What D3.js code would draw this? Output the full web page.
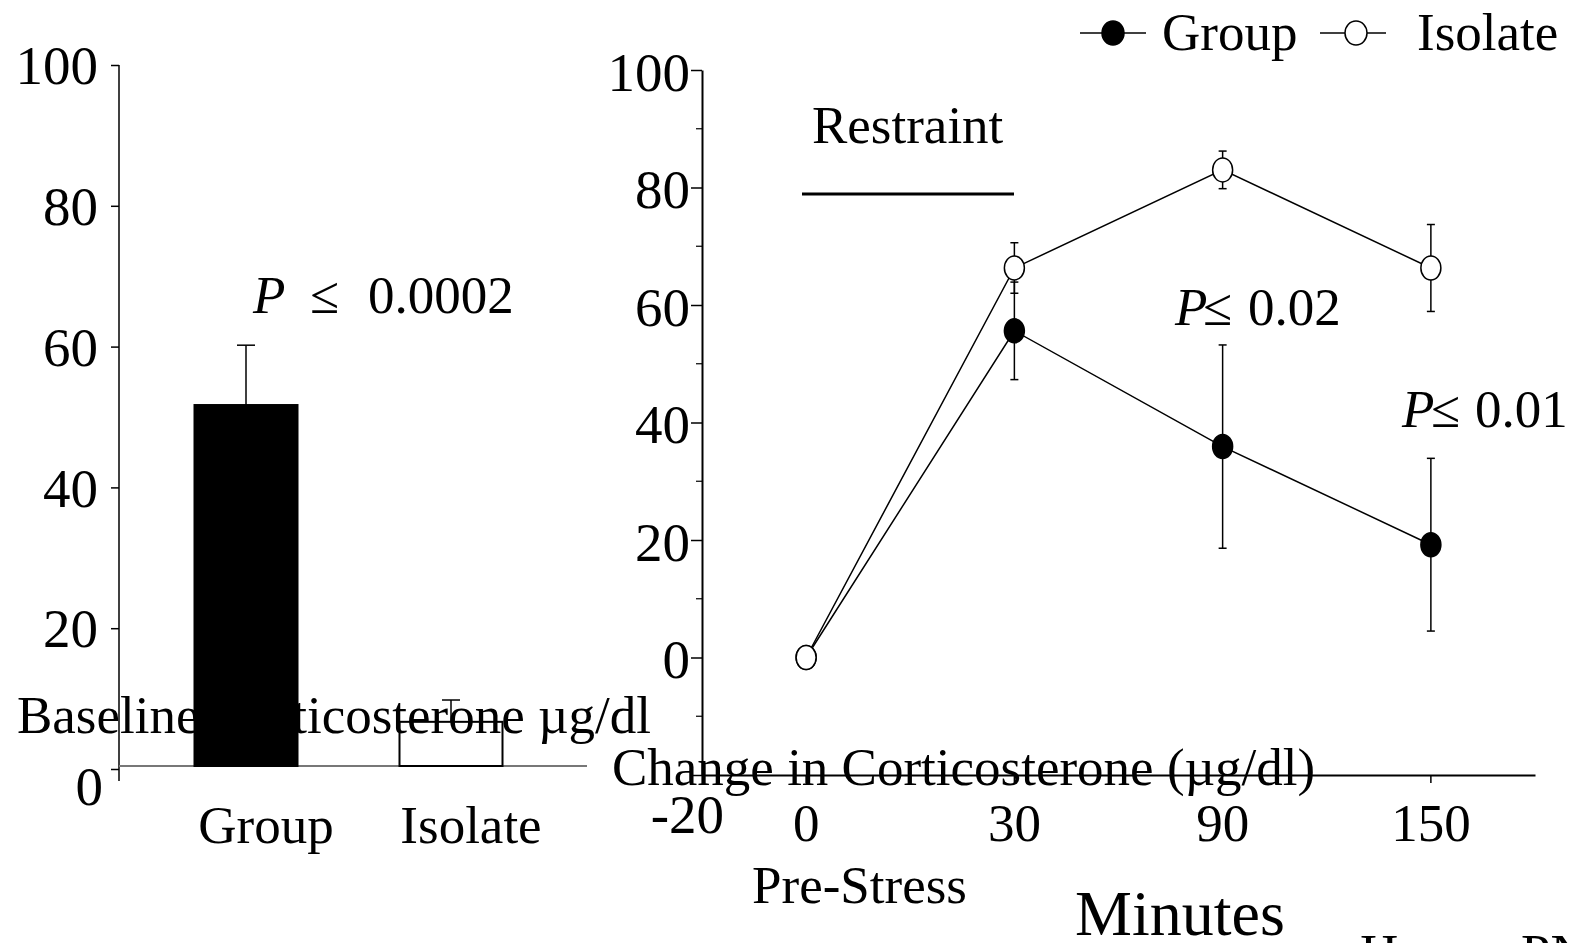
<!DOCTYPE html>
<html>
<head>
<meta charset="utf-8">
<script src="https://cdn.jsdelivr.net/npm/d3@7"></script>
<style>
	body { margin: 0; background: #fff; }
	svg text { font-family: "Liberation Serif", "Times New Roman", serif; fill: #000; }
</style>
</head>
<body>
<svg width="1571" height="943"></svg>
<script>
// baseline bars
var barGroups = ["Group", "Isolate"];
var barMeans = [51.7, 6.7];
var barErr = [8.5, 3.1];
var leftTicks = [0, 20, 40, 60, 80, 100];

// restraint time course
var timeLabels = ["0", "30", "90", "150"];
var groupMeans = [0, 55.6, 35.9, 19.2];
var groupErr = [0, 8.3, 17.3, 14.7];
var isolateMeans = [0, 66.3, 83.0, 66.3];
var isolateErr = [0, 4.3, 3.2, 7.4];
var rightTicks = [-20, 0, 20, 40, 60, 80, 100];
var rightMinor = [-10, 10, 30, 50, 70, 90];

var svg = d3.select("svg");
var fs = 53;
var tickFs = 55;

//----- left panel -----
var yL = d3.scaleLinear().domain([0, 100]).range([769, 65]);
var xL = d3.scalePoint().domain(barGroups).range([246, 451]);
var barW = 103;

svg.append("text")
	.attr("x", 17).attr("y", 733)
	.style("font-size", fs + "px")
	.text("Baseline Corticosterone \u00b5g/dl");

var leftAxis = svg.append("g")
	.attr("transform", "translate(119,0)")
	.call(d3.axisLeft(yL).tickValues(leftTicks).tickSize(8).tickPadding(13).tickSizeOuter(0)
		.tickFormat(function(d) { return String(d); }));
leftAxis.select(".domain").remove();
leftAxis.selectAll(".tick line").attr("stroke", "#000").attr("stroke-width", 1.5);
leftAxis.selectAll(".tick text")
	.attr("font-family", null).attr("font-size", null)
	.style("font-size", tickFs + "px")
	.attr("dx", function(d) { return d == 0 ? "5" : null; })
	.attr("dy", function(d) { return d == 0 ? "0.64em" : "0.34em"; });

svg.append("line")
	.attr("x1", 119).attr("x2", 119)
	.attr("y1", yL(100)).attr("y2", 781)
	.attr("stroke", "#000").attr("stroke-width", 1.5);

svg.append("line")
	.attr("x1", 119).attr("x2", 587)
	.attr("y1", 766).attr("y2", 766)
	.attr("stroke", "#777").attr("stroke-width", 2);

// error bars (upper only)
barGroups.forEach(function(g, i) {
	var cx = xL(g);
	svg.append("line")
		.attr("x1", cx).attr("x2", cx)
		.attr("y1", yL(barMeans[i])).attr("y2", yL(barMeans[i] + barErr[i]))
		.attr("stroke", "#000").attr("stroke-width", 1.5);
	svg.append("line")
		.attr("x1", cx - 9).attr("x2", cx + 9)
		.attr("y1", yL(barMeans[i] + barErr[i])).attr("y2", yL(barMeans[i] + barErr[i]))
		.attr("stroke", "#000").attr("stroke-width", 1.5);
});

svg.selectAll("rect.bar")
	.data(barGroups)
	.enter().append("rect")
		.attr("class", "bar")
		.attr("x", function(d) { return xL(d) - barW / 2; })
		.attr("width", barW)
		.attr("y", function(d, i) { return yL(barMeans[i]); })
		.attr("height", function(d, i) { return 766 - yL(barMeans[i]); })
		.attr("fill", function(d, i) { return i == 0 ? "#000" : "none"; })
		.attr("stroke", "#000")
		.attr("stroke-width", 2);

svg.selectAll("text.barlab")
	.data(barGroups)
	.enter().append("text")
		.attr("class", "barlab")
		.attr("x", function(d) { return xL(d) + 20; })
		.attr("y", 843)
		.attr("text-anchor", "middle")
		.style("font-size", fs + "px")
		.text(function(d) { return d; });

var pL = svg.append("text").attr("y", 313).style("font-size", fs + "px");
pL.append("tspan").attr("x", 253).style("font-style", "italic").text("P");
pL.append("tspan").attr("x", 310).text("\u2264");
pL.append("tspan").attr("x", 368).text("0.0002");

//----- right panel -----
var yR = d3.scaleLinear().domain([-20, 100]).range([775, 70]);
var xR = d3.scaleBand().domain(timeLabels).range([702, 1535]);
function cx(i) { return xR(timeLabels[i]) + xR.bandwidth() / 2; }

svg.append("text")
	.attr("x", 612).attr("y", 785)
	.style("font-size", fs + "px")
	.text("Change in Corticosterone (\u00b5g/dl)");

var rightAxis = svg.append("g")
	.attr("transform", "translate(702,0)")
	.call(d3.axisLeft(yR).tickValues(rightTicks).tickSize(11).tickPadding(1).tickSizeOuter(0)
		.tickFormat(function(d) { return String(d); }));
rightAxis.select(".domain").attr("stroke-width", 2);
rightAxis.selectAll(".tick line").attr("stroke-width", 1.5);
rightAxis.selectAll(".tick text")
	.attr("font-family", null).attr("font-size", null)
	.style("font-size", tickFs + "px")
	.attr("dx", function(d) { return d == -20 ? "34" : null; })
	.attr("dy", function(d) { return d == -20 ? "1.05em" : "0.37em"; });

svg.append("g")
	.selectAll("line")
	.data(rightMinor)
	.enter().append("line")
		.attr("x1", 696).attr("x2", 702)
		.attr("y1", function(d) { return yR(d); })
		.attr("y2", function(d) { return yR(d); })
		.attr("stroke", "#000").attr("stroke-width", 1.2);

var bottomAxis = svg.append("g")
	.attr("transform", "translate(0," + yR(-20) + ")")
	.call(d3.axisBottom(xR).tickSize(8).tickPadding(20).tickSizeOuter(0));
bottomAxis.select(".domain").attr("stroke-width", 2);
bottomAxis.selectAll(".tick line").attr("stroke-width", 1.5);
bottomAxis.selectAll(".tick text")
	.attr("font-family", null).attr("font-size", null)
	.style("font-size", fs + "px");

// restraint marker
svg.append("text")
	.attr("x", 812).attr("y", 143)
	.style("font-size", fs + "px")
	.text("Restraint");
svg.append("line")
	.attr("x1", 802).attr("x2", 1014)
	.attr("y1", 194).attr("y2", 194)
	.attr("stroke", "#000").attr("stroke-width", 3);

var line = d3.line()
	.x(function(d, i) { return cx(i); })
	.y(function(d) { return yR(d); });

function drawSeries(means, errs, fill) {
	svg.append("path")
		.datum(means)
		.attr("d", line)
		.attr("fill", "none")
		.attr("stroke", "#000")
		.attr("stroke-width", 1.5);

	var eb = svg.append("g");
	means.forEach(function(m, i) {
		if (errs[i] == 0) return;
		var x = cx(i);
		eb.append("line")
			.attr("x1", x).attr("x2", x)
			.attr("y1", yR(m - errs[i])).attr("y2", yR(m + errs[i]))
			.attr("stroke", "#000").attr("stroke-width", 1.5);
		[m - errs[i], m + errs[i]].forEach(function(v) {
			eb.append("line")
				.attr("x1", x - 4).attr("x2", x + 4)
				.attr("y1", yR(v)).attr("y2", yR(v))
				.attr("stroke", "#000").attr("stroke-width", 1.5);
		});
	});

	svg.append("g")
		.selectAll("ellipse")
		.data(means)
		.enter().append("ellipse")
			.attr("cx", function(d, i) { return cx(i); })
			.attr("cy", function(d) { return yR(d); })
			.attr("rx", 10).attr("ry", 12)
			.attr("fill", fill)
			.attr("stroke", "#000")
			.attr("stroke-width", 1.5);
}

drawSeries(groupMeans, groupErr, "#000");
drawSeries(isolateMeans, isolateErr, "#fff");

// significance labels
function pLabel(xP, xLe, xNum, y, txt) {
	var t = svg.append("text").attr("y", y).style("font-size", fs + "px");
	t.append("tspan").attr("x", xP).style("font-style", "italic").text("P");
	t.append("tspan").attr("x", xLe).text("\u2264");
	t.append("tspan").attr("x", xNum).text(txt);
}
pLabel(1175, 1203, 1248, 325, "0.02");
pLabel(1402, 1431, 1475, 427, "0.01");

svg.append("text")
	.attr("x", 752).attr("y", 903)
	.style("font-size", fs + "px")
	.text("Pre-Stress");

svg.append("text")
	.attr("x", 1075).attr("y", 935)
	.style("font-size", "64px")
	.text("Minutes");

// legend
var legend = [["Group", "#000", 1080, 1113, 1162], ["Isolate", "#fff", 1320, 1356, 1417]];
legend.forEach(function(d) {
	svg.append("line")
		.attr("x1", d[2]).attr("x2", d[2] + 66)
		.attr("y1", 33).attr("y2", 33)
		.attr("stroke", "#000").attr("stroke-width", 1.5);
	svg.append("ellipse")
		.attr("cx", d[3]).attr("cy", 33)
		.attr("rx", 11).attr("ry", 12)
		.attr("fill", d[1]).attr("stroke", "#000").attr("stroke-width", 1.5);
	svg.append("text")
		.attr("x", d[4]).attr("y", 50)
		.style("font-size", fs + "px")
		.text(d[0]);
});

// citation, cut off at bottom edge
svg.append("text").attr("x", 1360).attr("y", 971).style("font-size", fs + "px").text("Hermes");
svg.append("text").attr("x", 1521).attr("y", 971).style("font-size", fs + "px").text("PNAS");
</script>
</body>
</html>
